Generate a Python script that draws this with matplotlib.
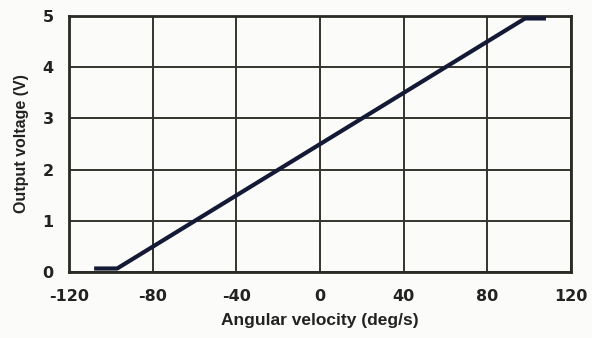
import matplotlib
matplotlib.use("Agg")
import matplotlib.pyplot as plt

# sensor transfer curve: output saturates at both ends
velocity = [-108, -97, 98, 108]
voltage = [0.07, 0.07, 4.95, 4.95]

x_ticks = [-120, -80, -40, 0, 40, 80, 120]
y_ticks = [0, 1, 2, 3, 4, 5]

plt.rcParams["font.family"] = ["Liberation Sans", "DejaVu Sans"]

fig = plt.figure(figsize=(5.92, 3.38), dpi=100)
fig.patch.set_facecolor("#fbfbf9")
ax = fig.add_axes([0.1166, 0.195, 0.848, 0.758])
ax.set_facecolor("#fbfbf9")

ax.plot(velocity, voltage, color="#141a36", linewidth=3.0, solid_capstyle="butt", zorder=3)

ax.set_xlim(-120, 120)
ax.set_ylim(0, 5)
ax.set_xticks(x_ticks)
ax.set_yticks(y_ticks)
tick_font = dict(fontsize=11.5, fontweight="bold", color="#222222", family="DejaVu Sans")
ax.set_xticklabels([str(v) for v in x_ticks], **tick_font)
ax.set_yticklabels([str(v) for v in y_ticks], **tick_font)
ax.tick_params(axis="x", length=0, pad=12)
ax.tick_params(axis="y", length=0, pad=11)

ax.grid(True, color="#35342c", linewidth=1.4)
for side in ax.spines.values():
    side.set_color("#2a2a24")
    side.set_linewidth(2.0)

ax.set_xlabel("Angular velocity (deg/s)", fontsize=12.5, fontweight="bold", color="#222222", va="center")
ax.set_ylabel("Output voltage (V)", fontsize=11.5, fontweight="bold", color="#222222", va="center")
ax.xaxis.set_label_coords(0.5, -0.19)
ax.yaxis.set_label_coords(-0.094, 0.5)

fig.savefig("out.png", dpi=100, facecolor=fig.get_facecolor())
